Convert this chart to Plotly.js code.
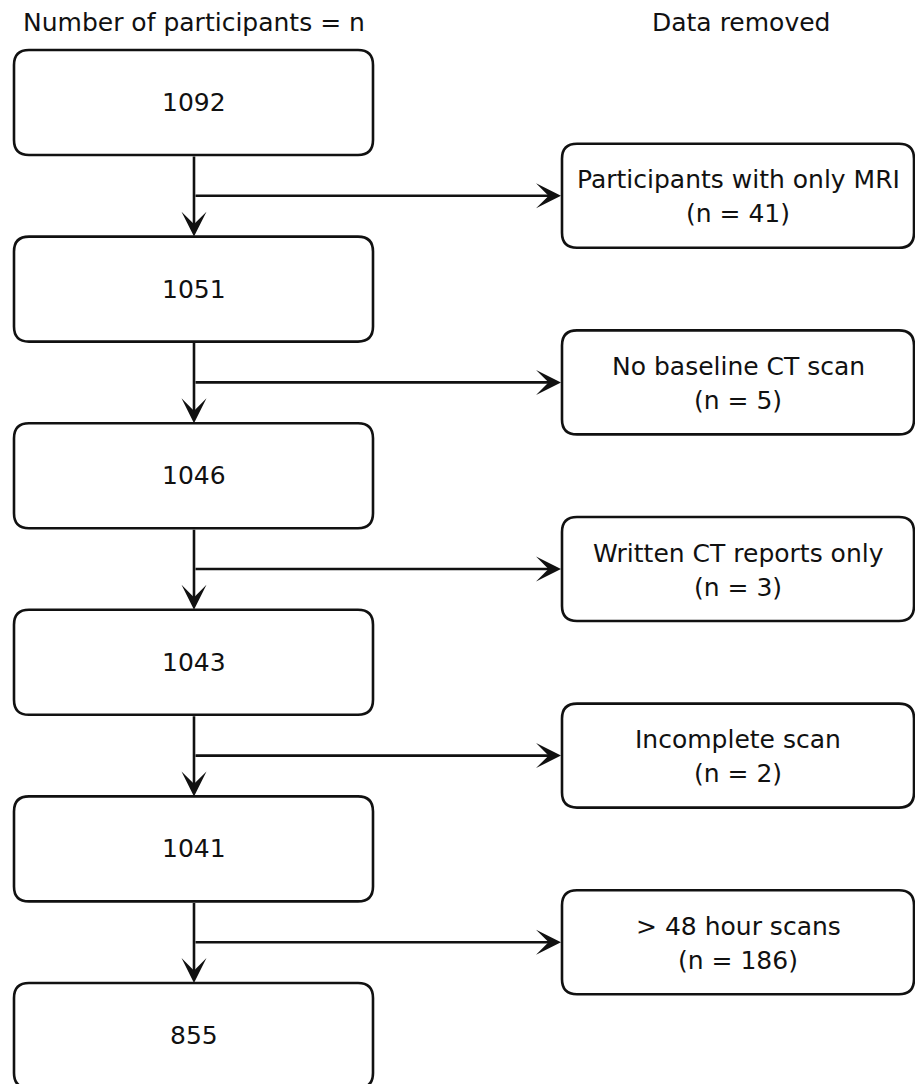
<!DOCTYPE html>
<html>
<head>
<meta charset="utf-8">
<script src="https://cdn.plot.ly/plotly-3.0.1.min.js"></script>
<style>html,body{margin:0;padding:0;background:#fff;}#chart{width:915px;height:1084px;}</style>
</head>
<body>
<div id="chart"></div>
<script>
// ---- data ----
const headerLeft = "Number of participants = n";
const headerRight = "Data removed";
const participantCounts = [1092, 1051, 1046, 1043, 1041, 855];
const removedLabels = ["Participants with only MRI", "No baseline CT scan", "Written CT reports only", "Incomplete scan", "> 48 hour scans"];
const removedCounts = [41, 5, 3, 2, 186];

// ---- layout constants ----
const W = 915, H = 1084;
const L = {x0: 14, x1: 373, top0: 50, step: 186.6, h: 105};
const R = {x0: 562, x1: 914, h: 104};
const stemX = 194, rad = 15, ink = "#111111", lw = 2.6;
const FONT = "DejaVu Sans", FS = 25;

function roundRect(x0, y0, x1, y1, r) {
  return `M${x0+r},${y0} L${x1-r},${y0} Q${x1},${y0} ${x1},${y0+r} L${x1},${y1-r} Q${x1},${y1} ${x1-r},${y1} L${x0+r},${y1} Q${x0},${y1} ${x0},${y1-r} L${x0},${y0+r} Q${x0},${y0} ${x0+r},${y0} Z`;
}

const shapes = [], annotations = [];
const tops = participantCounts.map((_, i) => L.top0 + i * L.step);

participantCounts.forEach((n, i) => {
  const t = tops[i], b = t + L.h;
  shapes.push({type: "path", xref: "x", yref: "y", path: roundRect(L.x0, t, L.x1, b, rad),
    line: {color: ink, width: lw}, fillcolor: "rgba(0,0,0,0)"});
  annotations.push({x: (L.x0 + L.x1) / 2, y: t + L.h / 2, xref: "x", yref: "y", text: String(n),
    showarrow: false, font: {family: FONT, size: FS, color: ink}});
});

removedLabels.forEach((lab, i) => {
  const bottom = tops[i] + L.h, nextTop = tops[i + 1];
  const by = (bottom + nextTop) / 2;
  annotations.push({x: stemX, y: nextTop, ax: stemX, ay: bottom, xref: "x", yref: "y", axref: "x", ayref: "y",
    text: "", showarrow: true, arrowhead: 3, arrowsize: 1.6, arrowwidth: lw, arrowcolor: ink, standoff: 0, startstandoff: 0});
  annotations.push({x: R.x0 - 1, y: by, ax: stemX, ay: by, xref: "x", yref: "y", axref: "x", ayref: "y",
    text: "", showarrow: true, arrowhead: 3, arrowsize: 1.6, arrowwidth: lw, arrowcolor: ink, standoff: 0, startstandoff: 0});
  shapes.push({type: "path", xref: "x", yref: "y", path: roundRect(R.x0, by - R.h / 2, R.x1, by + R.h / 2, rad),
    line: {color: ink, width: lw}, fillcolor: "rgba(0,0,0,0)"});
  const cx = (R.x0 + R.x1) / 2;
  annotations.push({x: cx, y: by - 16, xref: "x", yref: "y", text: lab, showarrow: false,
    font: {family: FONT, size: FS, color: ink}});
  annotations.push({x: cx, y: by + 18, xref: "x", yref: "y", text: "(n = " + removedCounts[i] + ")", showarrow: false,
    font: {family: FONT, size: FS, color: ink}});
});

annotations.push({x: (L.x0 + L.x1) / 2, y: 22, xref: "x", yref: "y", text: headerLeft, showarrow: false,
  font: {family: FONT, size: FS, color: ink}});
annotations.push({x: 741, y: 22, xref: "x", yref: "y", text: headerRight, showarrow: false,
  font: {family: FONT, size: FS, color: ink}});

const layout = {
  width: W, height: H,
  margin: {l: 0, r: 0, t: 0, b: 0},
  paper_bgcolor: "#ffffff", plot_bgcolor: "#ffffff",
  xaxis: {range: [0, W], visible: false, fixedrange: true},
  yaxis: {range: [H, 0], visible: false, fixedrange: true},
  showlegend: false,
  shapes: shapes,
  annotations: annotations,
  font: {family: FONT, size: FS, color: ink}
};

Plotly.newPlot("chart", [], layout, {displayModeBar: false, staticPlot: true});
</script>
</body>
</html>
